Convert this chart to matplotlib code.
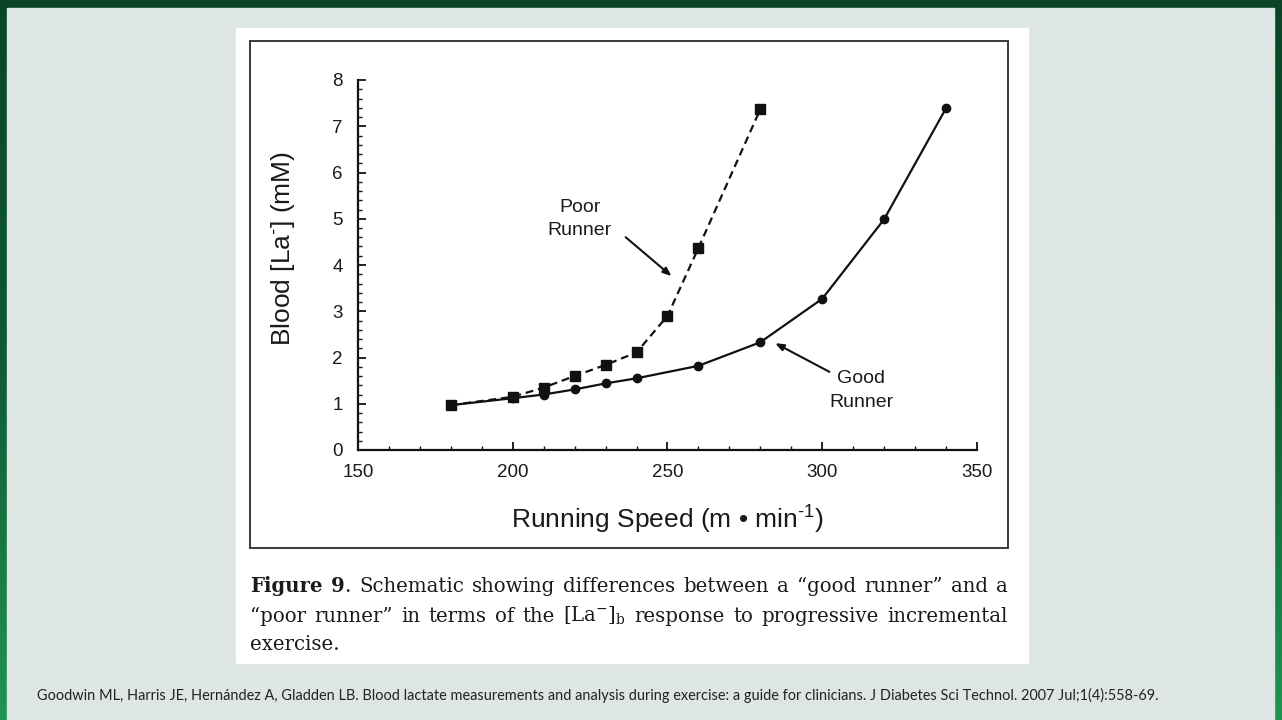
import matplotlib
matplotlib.use('Agg')
import matplotlib.pyplot as plt
import numpy as np
from matplotlib.patches import Rectangle
from matplotlib.ticker import MultipleLocator
from matplotlib.colors import LinearSegmentedColormap

# ---------------- data ----------------
poor_speed = [180, 200, 210, 220, 230, 240, 250, 260, 280]
poor_lactate = [0.97, 1.15, 1.35, 1.60, 1.84, 2.11, 2.90, 4.37, 7.37]
good_speed = [180, 200, 210, 220, 230, 240, 260, 280, 300, 320, 340]
good_lactate = [0.97, 1.12, 1.20, 1.31, 1.44, 1.55, 1.82, 2.33, 3.27, 4.99, 7.39]
x_ticks = [150, 200, 250, 300, 350]
y_ticks = [0, 1, 2, 3, 4, 5, 6, 7, 8]
x_label = "Running Speed (m \u2022 min$^{\\mathregular{\u2010}1}$)"
y_label = "Blood [La$^{\\mathregular{\u2010}}$] (mM)"
caption_lines = [
    [[("Figure", "bold")], [("9", "bold"), (".", "normal")], "Schematic", "showing",
     "differences", "between", "a", "\u201cgood", "runner\u201d", "and", "a"],
    ["\u201cpoor", "runner\u201d", "in", "terms", "of", "the",
     [(r"[La$^{-}$]$_{\mathrm{b}}$", "normal")], "response", "to", "progressive",
     "incremental"],
    ["exercise."],
]
citation = ("Goodwin ML, Harris JE, Hern\u00e1ndez A, Gladden LB. Blood lactate measurements "
            "and analysis during exercise: a guide for clinicians. J Diabetes Sci Technol. "
            "2007 Jul;1(4):558-69.")

W, H, DPI = 1282, 720, 100
plt.rcParams['font.family'] = ['Liberation Sans', 'DejaVu Sans']
plt.rcParams['mathtext.fontset'] = 'custom'
plt.rcParams['mathtext.rm'] = 'Liberation Sans'
plt.rcParams['mathtext.it'] = 'Liberation Sans:italic'
plt.rcParams['mathtext.bf'] = 'Liberation Sans:bold'

fig = plt.figure(figsize=(W / DPI, H / DPI), dpi=DPI)

# background axes in pixel coordinates (top-down)
bg = fig.add_axes([0, 0, 1, 1])
bg.set_xlim(0, W)
bg.set_ylim(H, 0)
bg.axis('off')
cmap = LinearSegmentedColormap.from_list('g', ['#0a4527', '#0f5a33', '#1f9553'])
grad = np.linspace(0, 1, 256).reshape(-1, 1)
bg.imshow(grad, aspect='auto', cmap=cmap, extent=[0, W, H, 0], zorder=0)
bg.add_patch(Rectangle((7, 8), 1274 - 7, H - 8, color='#dde6e2', zorder=1))
bg.add_patch(Rectangle((236, 28), 792, 635, color='white', zorder=2))
bg.add_patch(Rectangle((250, 41), 758, 507, fill=False, ec='#3a3a3a', lw=1.4, zorder=3))


def px_rect(x0, y0, x1, y1):
    return [x0 / W, 1 - y1 / H, (x1 - x0) / W, (y1 - y0) / H]


ax = fig.add_axes(px_rect(358, 80, 977, 450))
ax.set_facecolor('none')
ax.set_xlim(150, 350)
ax.set_ylim(0, 8)
for s in ['top', 'right']:
    ax.spines[s].set_visible(False)
for s in ['left', 'bottom']:
    ax.spines[s].set_linewidth(1.6)
    ax.spines[s].set_color('#111111')
ax.set_xticks(x_ticks)
ax.set_yticks(y_ticks)
ax.xaxis.set_minor_locator(MultipleLocator(10))
ax.yaxis.set_minor_locator(MultipleLocator(0.2))
ax.tick_params(which='major', direction='in', length=6, width=1.3, labelsize=13.5,
               colors='#111111', labelcolor='#1a1a1a')
ax.tick_params(axis='x', which='major', pad=10)
ax.tick_params(axis='y', which='major', pad=11)
ax.tick_params(which='minor', direction='in', length=3, width=1.0, colors='#111111')

ax.plot(good_speed, good_lactate, color='#111111', lw=1.6, marker='o', ms=6,
        zorder=3, clip_on=False)
ax.plot(poor_speed, poor_lactate, color='#111111', lw=1.6, ls=(0, (3.5, 2.2)),
        marker='s', ms=7, zorder=4, clip_on=False)

ax.set_xlabel(x_label, fontsize=19, color='#1a1a1a')
ax.xaxis.set_label_coords(0.5, -0.145)
ax.set_ylabel(y_label, fontsize=19, color='#1a1a1a')
ax.yaxis.set_label_coords(-0.098, 0.546)

arrow_kw = dict(arrowstyle='-|>,head_length=0.5,head_width=0.2', color='#111111',
                lw=1.5, shrinkA=0, shrinkB=0)
ax.text(221.6, 5.0, "Poor\nRunner", fontsize=14, ha='center', va='center',
        multialignment='center', linespacing=1.5, color='#1a1a1a')
ax.annotate("", xy=(251.3, 3.76), xytext=(236.5, 4.6), arrowprops=arrow_kw)
ax.text(312.6, 1.28, "Good\nRunner", fontsize=14, ha='center', va='center',
        multialignment='center', linespacing=1.55, color='#1a1a1a')
ax.annotate("", xy=(284.8, 2.31), xytext=(302.3, 1.69), arrowprops=arrow_kw)

# ---------------- caption (justified) ----------------
renderer = fig.canvas.get_renderer()
cap_family = 'DejaVu Serif'
cap_size = 14.2
cap_left, cap_right = 250, 1008
baselines = [592, 622, 650]


def make_token(tok):
    if isinstance(tok, str):
        return [(tok, 'normal')]
    return tok


for li, line in enumerate(caption_lines):
    tokens = [make_token(t) for t in line]
    placed = []
    widths = []
    for tok in tokens:
        segs = []
        w = 0
        for s, weight in tok:
            t = bg.text(0, baselines[li], s, fontsize=cap_size, family=cap_family,
                        fontweight=weight, ha='left', va='baseline', color='#1a1a1a',
                        math_fontfamily='dejavuserif', zorder=5)
            ww = t.get_window_extent(renderer).width
            segs.append((t, w))
            w += ww
        placed.append(segs)
        widths.append(w)
    if li < 2 and len(tokens) > 1:
        gap = (cap_right - cap_left - sum(widths)) / (len(tokens) - 1)
    else:
        gap = 0.27 * cap_size * DPI / 72
    x = cap_left
    for segs, w in zip(placed, widths):
        for t, off in segs:
            t.set_x(x + off)
        x += w + gap

# ---------------- citation ----------------
ct = bg.text(37, 700, citation, fontsize=10, family='Lato', ha='left', va='baseline',
             color='#222222', zorder=5)
cw = ct.get_window_extent(renderer).width
ct.set_fontsize(10 * (1155 - 37) / cw)

fig.savefig('out.png', dpi=DPI)
